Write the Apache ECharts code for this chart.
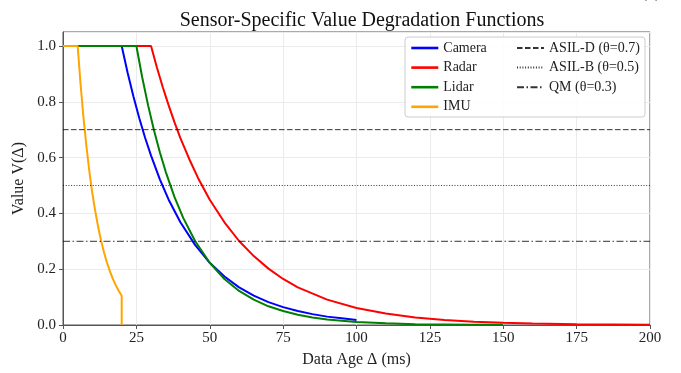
<!DOCTYPE html>
<html>
<head>
<meta charset="utf-8">
<script src="https://cdn.jsdelivr.net/npm/echarts@6/dist/echarts.min.js"></script>
<style>
  html, body { margin: 0; padding: 0; background: #fff; }
  #chart { width: 681px; height: 373px; }
</style>
</head>
<body>
<div id="chart"></div>
<script>
// values
const cameraAge = [0, 20, 22, 24, 26, 28, 30, 33, 36, 40, 45, 50, 55, 60, 65, 70, 75, 80, 85, 90, 95, 100]
const cameraValue = [1, 1, 0.905, 0.819, 0.741, 0.670, 0.607, 0.522, 0.449, 0.368, 0.287, 0.223, 0.174, 0.135, 0.105, 0.082, 0.064, 0.050, 0.039, 0.030, 0.024, 0.018]

const radarAge = [0, 30, 32, 34, 36, 38, 40, 43, 46, 50, 55, 60, 65, 70, 75, 80, 90, 100, 110, 120, 130, 140, 150, 160, 175, 200]
const radarValue = [1, 1, 0.923, 0.852, 0.787, 0.726, 0.670, 0.595, 0.527, 0.449, 0.368, 0.301, 0.247, 0.202, 0.165, 0.135, 0.091, 0.061, 0.041, 0.027, 0.018, 0.012, 0.008, 0.0055, 0.003, 0.001]

const lidarAge = [0, 25, 27, 29, 31, 33, 35, 38, 41, 45, 50, 55, 60, 65, 70, 75, 80, 85, 90, 100, 110, 120, 130, 140, 150]
const lidarValue = [1, 1, 0.887, 0.787, 0.698, 0.619, 0.549, 0.458, 0.383, 0.301, 0.223, 0.165, 0.122, 0.091, 0.067, 0.050, 0.037, 0.027, 0.020, 0.011, 0.006, 0.003, 0.002, 0.001, 0.001]

const imuAge = [0, 5, 6, 7, 8, 9, 10, 11, 12, 13, 14, 15, 16, 17, 18, 19, 20, 20]
const imuValue = [1, 1, 0.861, 0.741, 0.638, 0.549, 0.472, 0.407, 0.350, 0.301, 0.259, 0.223, 0.192, 0.165, 0.142, 0.122, 0.105, 0]

const sensorNames = ['Camera', 'Radar', 'Lidar', 'IMU']
const thresholdNames = ['ASIL-D (θ=0.7)', 'ASIL-B (θ=0.5)', 'QM (θ=0.3)']
const thresholdValues = [0.7, 0.5, 0.3]
const ageRange = [0, 200]

const serif = 'Liberation Serif'
const zip = (xs, ys) => xs.map((x, i) => [x, ys[i]])

const sensorData = [
  zip(cameraAge, cameraValue),
  zip(radarAge, radarValue),
  zip(lidarAge, lidarValue),
  zip(imuAge, imuValue)
]
const sensorColors = ['#0000ff', '#ff0000', '#008000', '#ffa500']
const dashes = [[5.5, 2.5], [1, 1.7], [7, 2.5, 1.5, 2.5]]

const chart = echarts.init(document.getElementById('chart'))

const series = sensorNames.map((name, i) => ({
  name,
  type: 'line',
  data: sensorData[i],
  symbol: 'none',
  z: 3,
  lineStyle: { color: sensorColors[i], width: 2 },
  itemStyle: { color: sensorColors[i] }
}))

thresholdNames.forEach((name, i) => {
  series.push({
    name,
    type: 'line',
    data: ageRange.map(a => [a, thresholdValues[i]]),
    symbol: 'none',
    z: 3,
    lineStyle: { color: 'rgba(0,0,0,0.8)', width: 1, type: dashes[i] },
    itemStyle: { color: 'rgba(0,0,0,0.8)' }
  })
})

const legendText = { fontFamily: serif, fontSize: 14, color: '#222' }

const option = {
  animation: false,
  backgroundColor: '#fff',
  title: {
    text: 'Sensor-Specific Value Degradation Functions',
    left: 357,
    textAlign: 'center',
    top: 6,
    textStyle: { fontFamily: serif, fontSize: 20, fontWeight: 'normal', color: '#111' }
  },
  graphic: [
    {
      type: 'rect',
      z: 3,
      shape: { x: 405, y: 37, width: 240, height: 80, r: 3 },
      style: { fill: 'rgba(255,255,255,0.9)', stroke: '#cccccc', lineWidth: 1 }
    },
    {
      type: 'text',
      right: 20,
      top: -17,
      style: { text: '(a)', fontFamily: serif, fontSize: 18, fill: '#111' }
    }
  ],
  legend: [
    {
      data: sensorNames,
      orient: 'vertical',
      left: 410,
      top: 41,
      itemWidth: 27,
      itemHeight: 14,
      itemGap: 5.6,
      padding: 0,
      itemStyle: { opacity: 0 },
      lineStyle: { width: 2.6 },
      textStyle: legendText
    },
    {
      data: thresholdNames,
      orient: 'vertical',
      left: 516,
      top: 41,
      itemWidth: 27,
      itemHeight: 14,
      itemGap: 5.6,
      padding: 0,
      itemStyle: { opacity: 0 },
      textStyle: legendText
    }
  ],
  grid: {
    left: 63,
    right: 31,
    top: 32,
    bottom: 48,
    show: true,
    borderColor: '#555',
    borderWidth: 1
  },
  xAxis: {
    type: 'value',
    min: 0,
    max: 200,
    interval: 25,
    name: 'Data Age Δ (ms)',
    nameLocation: 'middle',
    nameGap: 27,
    nameTextStyle: { fontFamily: serif, fontSize: 16, color: '#222' },
    axisLine: { lineStyle: { color: '#555' } },
    axisTick: { length: 4, lineStyle: { color: '#555' } },
    axisLabel: { fontFamily: serif, fontSize: 15, color: '#222', margin: 6 },
    splitLine: { lineStyle: { color: '#ebebeb' } }
  },
  yAxis: {
    type: 'value',
    min: 0,
    max: 1.05,
    interval: 0.2,
    name: 'Value V(Δ)',
    nameLocation: 'middle',
    nameGap: 36,
    nameTextStyle: { fontFamily: serif, fontSize: 16, color: '#222' },
    axisLine: { show: true, lineStyle: { color: '#555' } },
    axisTick: { show: true, length: 4, lineStyle: { color: '#555' } },
    axisLabel: {
      fontFamily: serif, fontSize: 15, color: '#222', margin: 7,
      showMaxLabel: false,
      formatter: v => v.toFixed(1)
    },
    splitLine: { lineStyle: { color: '#ebebeb' } }
  },
  series
}

chart.setOption(option)
</script>
</body>
</html>
